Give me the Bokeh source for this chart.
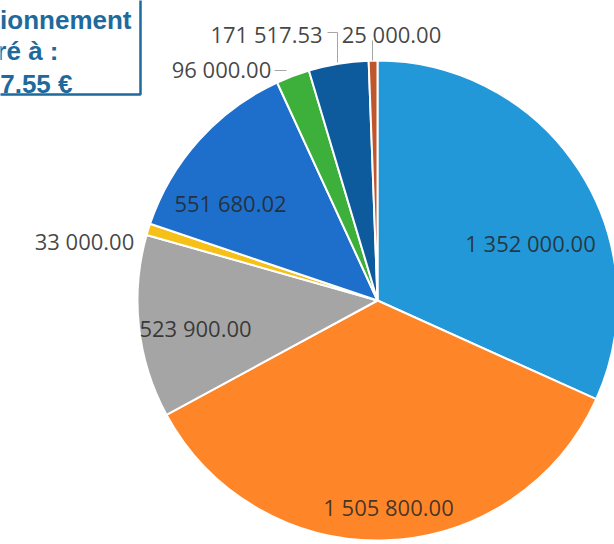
import numpy as np
from bokeh.plotting import figure
from bokeh.models import Range1d, ColumnDataSource
from bokeh.core.properties import value
from bokeh.embed import file_html
from bokeh.resources import INLINE

W, H = 614, 544

# ---- data ----
values = [1352000.00, 1505800.00, 523900.00, 33000.00, 551680.02, 96000.00, 171517.53, 25000.00]
colors = ["#2398D8", "#FF8628", "#A5A5A5", "#F5C118", "#1E6FCB", "#3DB03B", "#0D5A9C", "#C0562C"]
box_lines = ["Budget de fonctionnement", "déclaré à :", "4 258 897.55 €"]

# label placement (pixel coords, from top-left): centre x, baseline y
label_px = [(530, 242), (388, 506), (195, 327), (84, 240), (230, 202), (221, 68), (266, 33), (391, 33)]

vals = np.array(values)
total = vals.sum()
frac = vals / total
cum_after = np.cumsum(frac) * 2 * np.pi
cum_before = cum_after - frac * 2 * np.pi
start = np.pi / 2 - cum_after
end = np.pi / 2 - cum_before

def fmt(v):
    return f"{v:,.2f}".replace(",", " ")

labels = [fmt(v) for v in values]

p = figure(width=W, height=H, x_range=Range1d(0, W), y_range=Range1d(0, H),
           output_backend="svg", toolbar_location=None, min_border=0)
p.min_border_left = p.min_border_right = p.min_border_top = p.min_border_bottom = 0
p.axis.visible = False
p.grid.visible = False
p.outline_line_color = None
p.background_fill_color = "white"
p.border_fill_color = "white"

cx, cy, r = 377, H - 300, 240
src = ColumnDataSource(dict(start=start, end=end, color=colors))
p.wedge(x=cx, y=cy, radius=r, start_angle="start", end_angle="end", direction="anticlock",
        fill_color="color", line_color="white", line_width=2, source=src)

# leader lines
p.multi_line(xs=[[274, 286], [327, 337, 337], [372, 372]],
             ys=[[H - 70, H - 70], [H - 32, H - 32, H - 62], [H - 40, H - 60]],
             line_color="#A6A6A6", line_width=1)

lsrc = ColumnDataSource(dict(x=[a for a, b in label_px], y=[H - b for a, b in label_px], t=labels))
p.text(x="x", y="y", text="t", source=lsrc, text_align="center", text_baseline="alphabetic",
       text_font=value("Open Sans"), text_font_size="22px", text_color="#262626", text_alpha=0.85)

# boxed note (cropped at the left edge, as in the reference)
p.quad(left=-20, right=140, top=H + 20, bottom=H - 94, fill_color="white",
       line_color="#1E6A9C", line_width=2.5)
bx = [131, 58, 72]
by = [19, 50, 83]
p.text(x=bx, y=[H - b for b in by], text=box_lines, text_align="right", text_baseline="alphabetic",
       text_font=value("Liberation Sans"), text_font_style="bold", text_font_size="26px",
       text_color="#1E6A9C")

open("out.html", "w").write(file_html(p, INLINE))
